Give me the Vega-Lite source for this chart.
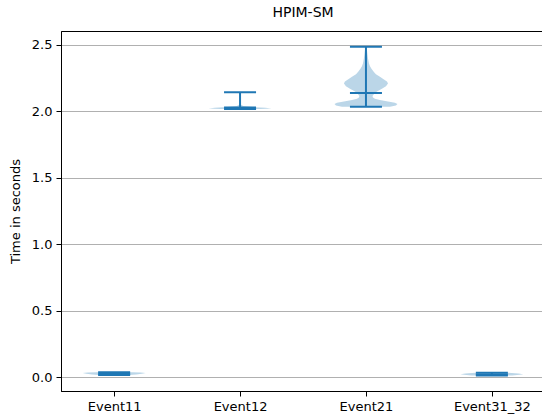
{
  "$schema": "https://vega.github.io/schema/vega-lite/v6.json",
  "width": 484,
  "height": 360,
  "autosize": {"type": "none"},
  "padding": {"left": 61, "top": 31, "right": -3, "bottom": 27},
  "background": "white",
  "title": {"text": "HPIM-SM", "font": "DejaVu Sans", "fontSize": 14, "fontWeight": "normal", "color": "black", "anchor": "middle", "offset": 11},
  "config": {
    "view": {"stroke": "black", "strokeWidth": 1},
    "axis": {"labelFont": "DejaVu Sans", "labelFontSize": 13, "labelColor": "black", "tickColor": "black", "domainColor": "black", "tickSize": 5, "labelPadding": 4, "titleFont": "DejaVu Sans", "titleFontSize": 13, "titleFontWeight": "normal", "titleColor": "black"}
  },
  "datasets": {
    "violin": [
      {"event": "Event11", "pos": 1, "v": 0.015, "w": 0.12},
      {"event": "Event11", "pos": 1, "v": 0.02, "w": 0.175},
      {"event": "Event11", "pos": 1, "v": 0.025, "w": 0.22},
      {"event": "Event11", "pos": 1, "v": 0.03, "w": 0.25},
      {"event": "Event11", "pos": 1, "v": 0.034, "w": 0.21},
      {"event": "Event11", "pos": 1, "v": 0.037, "w": 0.14},
      {"event": "Event12", "pos": 2, "v": 2.017, "w": 0.16},
      {"event": "Event12", "pos": 2, "v": 2.022, "w": 0.25},
      {"event": "Event12", "pos": 2, "v": 2.027, "w": 0.2},
      {"event": "Event12", "pos": 2, "v": 2.032, "w": 0.1},
      {"event": "Event12", "pos": 2, "v": 2.04, "w": 0.025},
      {"event": "Event12", "pos": 2, "v": 2.05, "w": 0.008},
      {"event": "Event12", "pos": 2, "v": 2.07, "w": 0.003},
      {"event": "Event12", "pos": 2, "v": 2.1, "w": 0.002},
      {"event": "Event12", "pos": 2, "v": 2.143, "w": 0.001},
      {"event": "Event21", "pos": 3, "v": 2.035, "w": 0.191},
      {"event": "Event21", "pos": 3, "v": 2.045, "w": 0.238},
      {"event": "Event21", "pos": 3, "v": 2.055, "w": 0.25},
      {"event": "Event21", "pos": 3, "v": 2.065, "w": 0.23},
      {"event": "Event21", "pos": 3, "v": 2.075, "w": 0.175},
      {"event": "Event21", "pos": 3, "v": 2.085, "w": 0.111},
      {"event": "Event21", "pos": 3, "v": 2.095, "w": 0.071},
      {"event": "Event21", "pos": 3, "v": 2.105, "w": 0.056},
      {"event": "Event21", "pos": 3, "v": 2.115, "w": 0.052},
      {"event": "Event21", "pos": 3, "v": 2.13, "w": 0.064},
      {"event": "Event21", "pos": 3, "v": 2.15, "w": 0.087},
      {"event": "Event21", "pos": 3, "v": 2.17, "w": 0.127},
      {"event": "Event21", "pos": 3, "v": 2.19, "w": 0.159},
      {"event": "Event21", "pos": 3, "v": 2.21, "w": 0.175},
      {"event": "Event21", "pos": 3, "v": 2.225, "w": 0.167},
      {"event": "Event21", "pos": 3, "v": 2.24, "w": 0.143},
      {"event": "Event21", "pos": 3, "v": 2.26, "w": 0.111},
      {"event": "Event21", "pos": 3, "v": 2.28, "w": 0.079},
      {"event": "Event21", "pos": 3, "v": 2.3, "w": 0.06},
      {"event": "Event21", "pos": 3, "v": 2.32, "w": 0.044},
      {"event": "Event21", "pos": 3, "v": 2.34, "w": 0.032},
      {"event": "Event21", "pos": 3, "v": 2.36, "w": 0.024},
      {"event": "Event21", "pos": 3, "v": 2.38, "w": 0.02},
      {"event": "Event21", "pos": 3, "v": 2.4, "w": 0.016},
      {"event": "Event21", "pos": 3, "v": 2.43, "w": 0.012},
      {"event": "Event21", "pos": 3, "v": 2.46, "w": 0.008},
      {"event": "Event21", "pos": 3, "v": 2.487, "w": 0.006},
      {"event": "Event31_32", "pos": 4, "v": 0.012, "w": 0.16},
      {"event": "Event31_32", "pos": 4, "v": 0.017, "w": 0.22},
      {"event": "Event31_32", "pos": 4, "v": 0.022, "w": 0.25},
      {"event": "Event31_32", "pos": 4, "v": 0.027, "w": 0.21},
      {"event": "Event31_32", "pos": 4, "v": 0.033, "w": 0.13}
    ],
    "stats": [
      {"event": "Event11", "pos": 1, "min": 0.015, "med": 0.025, "max": 0.037},
      {"event": "Event12", "pos": 2, "min": 2.017, "med": 2.03, "max": 2.143},
      {"event": "Event21", "pos": 3, "min": 2.035, "med": 2.138, "max": 2.487},
      {"event": "Event31_32", "pos": 4, "min": 0.012, "med": 0.02, "max": 0.033}
    ]
  },
  "layer": [
    {
      "data": {"name": "violin"},
      "transform": [
        {"calculate": "datum.pos - datum.w", "as": "lo"},
        {"calculate": "datum.pos + datum.w", "as": "hi"}
      ],
      "mark": {"type": "area", "orient": "horizontal", "color": "#1f77b4", "fillOpacity": 0.3},
      "encoding": {
        "y": {"field": "v", "type": "quantitative", "scale": {"domain": [-0.105, 2.605], "nice": false, "zero": false},
          "axis": {"title": "Time in seconds", "values": [0, 0.5, 1, 1.5, 2, 2.5], "format": ".1f", "grid": true, "gridColor": "#b0b0b0", "gridWidth": 1, "titlePadding": 9}},
        "x": {"field": "lo", "type": "quantitative", "scale": {"domain": [0.578, 4.422], "nice": false, "zero": false},
          "axis": {"title": null, "grid": false, "values": [1, 2, 3, 4],
            "labelExpr": "datum.value == 1 ? 'Event11' : datum.value == 2 ? 'Event12' : datum.value == 3 ? 'Event21' : 'Event31_32'"}},
        "x2": {"field": "hi"},
        "detail": {"field": "event", "type": "nominal"}
      }
    },
    {
      "data": {"name": "stats"},
      "mark": {"type": "rule", "color": "#1f77b4", "strokeWidth": 2},
      "encoding": {
        "x": {"field": "pos", "type": "quantitative"},
        "y": {"field": "min", "type": "quantitative"},
        "y2": {"field": "max"}
      }
    },
    {
      "data": {"name": "stats"},
      "transform": [{"fold": ["min", "med", "max"], "as": ["stat", "val"]}],
      "mark": {"type": "tick", "orient": "horizontal", "color": "#1f77b4", "size": 32, "thickness": 2, "opacity": 1},
      "encoding": {
        "x": {"field": "pos", "type": "quantitative"},
        "y": {"field": "val", "type": "quantitative"}
      }
    }
  ]
}
